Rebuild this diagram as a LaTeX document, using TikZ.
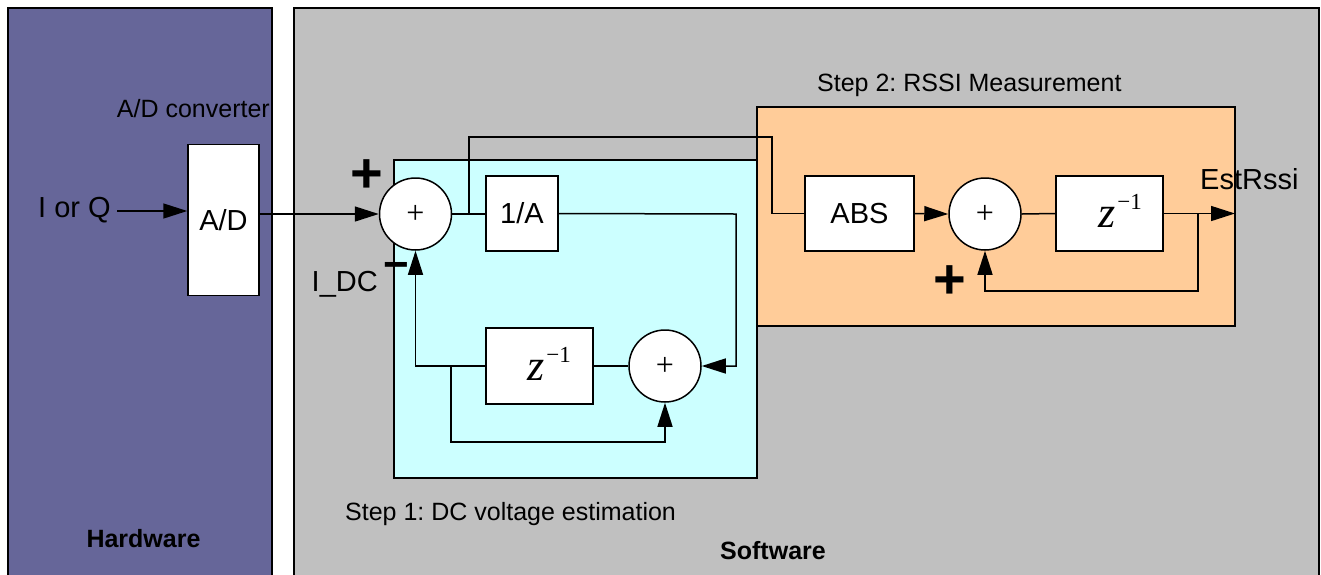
\documentclass[tikz,border=0pt]{standalone}
\usepackage{fontspec}
\setmainfont{Liberation Sans}
\newfontfamily\serifplus{Liberation Serif}
\usetikzlibrary{arrows.meta}
\definecolor{hwcol}{HTML}{666699}
\definecolor{swcol}{HTML}{C0C0C0}
\definecolor{cyancol}{HTML}{CCFFFF}
\definecolor{orangecol}{HTML}{FFCC99}
\frenchspacing
\begin{document}
\begin{tikzpicture}[x=1pt,y=-1pt,
  conn/.style={line width=1.5pt},
  arr/.style={conn,-{Triangle[length=24pt,width=15pt]}},
  blk/.style={draw,line width=1.5pt,fill=white,inner sep=0pt},
  sumnode/.style={draw,circle,line width=1.5pt,fill=white,minimum size=72pt,inner sep=0pt,font=\serifplus\fontsize{32}{32}\selectfont},
  txt/.style={inner sep=0pt,font=\fontsize{25}{30}\selectfont},
  txtb/.style={inner sep=0pt,font=\fontsize{29}{34}\selectfont},
  boldtxt/.style={inner sep=0pt,font=\bfseries\fontsize{25}{30}\selectfont},
  sign/.style={inner sep=0pt,font=\bfseries\fontsize{56}{56}\selectfont},
  zt/.style={inner sep=0pt,font=\serifplus\fontsize{44}{44}\selectfont},
  region/.style={draw,line width=1.5pt}
]
\newcommand{\zinv}{\textit{z}\kern2pt\raisebox{18pt}{\fontsize{23}{23}\selectfont −1}}
\useasboundingbox (0,0) rectangle (1321,574);
\clip (0,0) rectangle (1321,574);
% regions
\path[region,fill=hwcol] (8,8) rectangle (272,590);
\path[region,fill=swcol] (294,8) rectangle (1319,590);
\path[region,fill=cyancol] (394,160) rectangle (757,478);
\path[region,fill=orangecol] (757,107) rectangle (1235,326);

% blocks
\node[blk,txtb,minimum width=71pt,minimum height=151pt] (ad) at (223.5,220) {A/D};
\node[blk,txtb,minimum width=72pt,minimum height=75pt] (onea) at (522,213.5) {1/A};
\node[blk,minimum width=107pt,minimum height=76pt] (z1) at (539.5,366) {};
\node[zt,anchor=base] (z1t) at (549,380) {\zinv};
\node[blk,txtb,minimum width=109pt,minimum height=75pt] (abs) at (859.5,213.5) {ABS};
\node[blk,minimum width=107pt,minimum height=75pt] (z2) at (1109.5,213.5) {};
\node[zt,anchor=base] (z2t) at (1120,227.5) {\zinv};
\node[sumnode] (s1) at (415.5,214) {+};
\node[sumnode] (s3) at (665,366) {+};
\node[sumnode] (s2) at (985,214) {+};

% labels
\node[txt,anchor=base east] (adc) at (270,117) {A/D converter};
\node[txtb,anchor=base west] (iq) at (38,217) {I or Q};
\node[txt,anchor=base west] (st2) at (817,91) {Step 2: RSSI Measurement};
\node[txt,anchor=base west] (st1) at (345,520) {Step 1: DC voltage estimation};
\node[txtb,anchor=base west] (est) at (1200,189) {EstRssi};
\node[txtb,anchor=base east] (idc) at (378,291) {I\_DC};
\node[boldtxt,anchor=base] (hw) at (143.5,547) {Hardware};
\node[boldtxt,anchor=base] (sw) at (773,559) {Software};
\node[sign] (p1) at (367,176) {+};
\node[sign] (p2) at (950,282) {+};
\node[sign,font=\bfseries\fontsize{44}{44}\selectfont] (m1) at (396,271) {−};

% coordinates
\coordinate (iqend) at (117,211);
\coordinate (j1) at (469,214);
\coordinate (t1) at (772,137);
\coordinate (r1) at (736,214);
\coordinate (j2) at (451,366);
\coordinate (b1) at (451,442);
\coordinate (out) at (1235,213.5);
\coordinate (j3) at (1198,213.5);
\coordinate (b2) at (1198,291);

% connectors
\draw[arr] (iqend) -- (ad.west |- iqend);
\draw[arr] (ad.east |- s1.west) -- (s1.west);
\draw[conn] (s1.east) -- (onea.west |- s1.east);
\draw[conn] (j1) |- (t1) |- (abs.west);
\draw[arr] (onea.east) -- (r1) |- (s3.east);
\draw[conn] (z1.east) -- (s3.west);
\draw[arr] (z1.west) -| (s1.south);
\draw[arr] (j2) -- (b1) -| (s3.south);
\draw[arr] (abs.east) -- (s2.west);
\draw[conn] (s2.east) -- (z2.west);
\draw[arr] (z2.east) -- (out);
\draw[arr] (j3) -- (b2) -| (s2.south);
\end{tikzpicture}
\end{document}
